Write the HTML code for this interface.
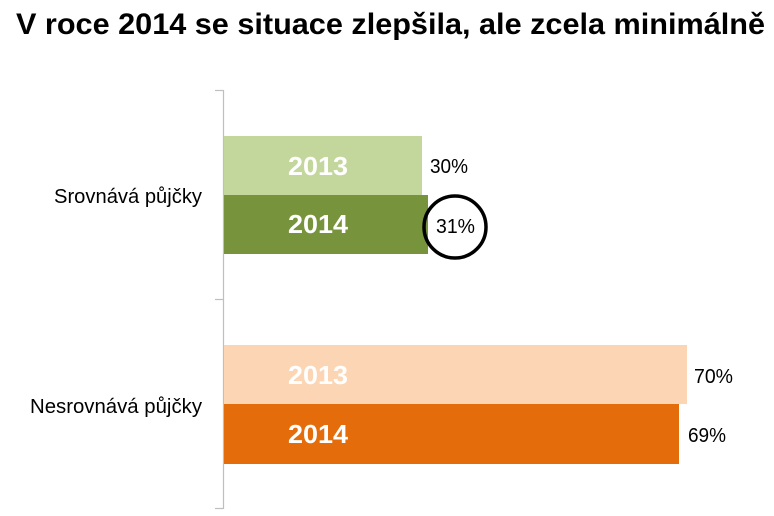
<!DOCTYPE html>
<html>
<head>
<meta charset="utf-8">
<style>
  html,body{margin:0;padding:0;background:#fff;}
  svg{display:block;}
  text{font-family:"Liberation Sans",sans-serif;}
</style>
</head>
<body>
<svg width="774" height="516" viewBox="0 0 774 516" xmlns="http://www.w3.org/2000/svg">
  <rect width="774" height="516" fill="#fff"/>
  <!-- Title -->
  <text x="16" y="34" font-size="30" font-weight="bold" fill="#000" textLength="749" lengthAdjust="spacingAndGlyphs">V roce 2014 se situace zlepšila, ale zcela minimálně</text>

  <!-- Axis -->
  <line x1="223.5" y1="90" x2="223.5" y2="509" stroke="#bfbfbf" stroke-width="1.2"/>
  <line x1="215" y1="90.5" x2="223.5" y2="90.5" stroke="#bfbfbf" stroke-width="1.2"/>
  <line x1="215" y1="299.5" x2="223.5" y2="299.5" stroke="#bfbfbf" stroke-width="1.2"/>
  <line x1="215" y1="508.5" x2="223.5" y2="508.5" stroke="#bfbfbf" stroke-width="1.2"/>

  <!-- Green bars -->
  <rect x="224" y="136" width="198" height="59" fill="#c3d69b"/>
  <rect x="224" y="195" width="204" height="59" fill="#77933c"/>
  <!-- Orange bars -->
  <rect x="224" y="345" width="463" height="59" fill="#fcd5b5"/>
  <rect x="224" y="404" width="455" height="60" fill="#e46c0a"/>

  <!-- Bar inner labels -->
  <g font-size="26" font-weight="bold" fill="#fff">
    <text x="288" y="175" textLength="60" lengthAdjust="spacingAndGlyphs">2013</text>
    <text x="288" y="233" textLength="60" lengthAdjust="spacingAndGlyphs">2014</text>
    <text x="288" y="384" textLength="60" lengthAdjust="spacingAndGlyphs">2013</text>
    <text x="288" y="443" textLength="60" lengthAdjust="spacingAndGlyphs">2014</text>
  </g>

  <!-- Category labels -->
  <g font-size="20" fill="#000">
    <text x="54" y="203" textLength="148" lengthAdjust="spacingAndGlyphs">Srovnává půjčky</text>
    <text x="30" y="413" textLength="172" lengthAdjust="spacingAndGlyphs">Nesrovnává půjčky</text>
  </g>

  <!-- Value labels -->
  <g font-size="20" fill="#000">
    <text x="430" y="173" textLength="38" lengthAdjust="spacingAndGlyphs">30%</text>
    <text x="436" y="233" textLength="39" lengthAdjust="spacingAndGlyphs">31%</text>
    <text x="694" y="383" textLength="39" lengthAdjust="spacingAndGlyphs">70%</text>
    <text x="688" y="442" textLength="38" lengthAdjust="spacingAndGlyphs">69%</text>
  </g>

  <!-- Highlight circle -->
  <circle cx="455" cy="227" r="31" fill="none" stroke="#000" stroke-width="3.5"/>
</svg>
</body>
</html>
